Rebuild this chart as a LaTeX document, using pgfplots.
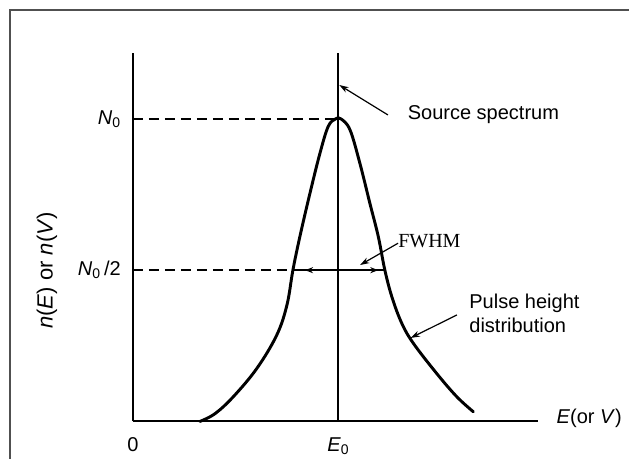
\documentclass[border=0pt]{standalone}
\usepackage{fontspec}
\setmainfont{Liberation Sans}
\newfontfamily\seriffont{Liberation Serif}
\usepackage{pgfplots}
\pgfplotsset{compat=1.18}
\usetikzlibrary{arrows.meta}
\definecolor{framegray}{RGB}{80,80,80}
\begin{document}
\fontsize{15}{18}\selectfont
\begin{tikzpicture}
\useasboundingbox (-99.75pt,-28.1pt) rectangle (372pt,316.1pt);
\draw[line width=1.5pt, framegray] (-92.6pt,-28.1pt) -- (-92.6pt,308.6pt) -- (372pt,308.6pt);
\begin{axis}[
  at={(0,0)}, anchor=south west,
  scale only axis, width=303.75pt, height=276.4pt,
  xmin=0, xmax=1.973, ymin=0, ymax=1.218,
  axis lines=left,
  axis line style={-, line width=1.5pt},
  major tick length=0pt,
  xtick={0,1}, xticklabels={0,\textit{E}\textsubscript{0}},
  ytick={0.5,1}, yticklabels={\textit{N}\textsubscript{0}\,/2,\textit{N}\textsubscript{0}},
  xticklabel style={yshift=-7pt},
  yticklabel style={xshift=-4pt},
  clip=false,
]
% source spectrum (delta line at E0)
\addplot[line width=1.2pt] coordinates {(1,0) (1,1.218)};
% dashed guides
\addplot[line width=1.5pt, dash pattern=on 7.5pt off 4.5pt] coordinates {(0,1) (0.985,1)};
\addplot[line width=1.5pt, dash pattern=on 7.5pt off 4.5pt] coordinates {(0,0.5) (0.779,0.5)};
% FWHM line
\addplot[line width=1.1pt] coordinates {(0.779,0.5) (1.227,0.5)};
\addplot[line width=1.1pt, -{Stealth[length=6pt,width=4.5pt]}] coordinates {(1,0.5) (0.838,0.5)};
\addplot[line width=1.1pt, -{Stealth[length=6pt,width=4.5pt]}] coordinates {(1,0.5) (1.195,0.5)};
% pulse height distribution
\addplot[line width=2.2pt, smooth, tension=0.6, line cap=round] coordinates {
(0.326,0) (0.40,0.026) (0.489,0.082) (0.603,0.175) (0.700,0.285) (0.750,0.385)
(0.779,0.5) (0.813,0.611) (0.862,0.754) (0.911,0.887) (0.951,0.975)
(0.987,1.0) (1.013,1.0) (1.057,0.964) (1.105,0.854) (1.154,0.721) (1.195,0.611)
(1.227,0.5) (1.262,0.410) (1.309,0.325) (1.365,0.259) (1.479,0.159) (1.577,0.082)
(1.658,0.032)};
% leaders
\addplot[line width=0.9pt, -{Stealth[length=7pt,width=4.5pt]}] coordinates {(1.242,1.013) (1.005,1.112)};
\addplot[line width=0.9pt, -{Stealth[length=7pt,width=4.5pt]}] coordinates {(1.291,0.589) (1.106,0.517)};
\addplot[line width=0.9pt, -{Stealth[length=7pt,width=4.5pt]}] coordinates {(1.578,0.352) (1.352,0.276)};
\node[anchor=west] at (axis cs:1.305,1.013) {Source spectrum};
\node[anchor=west, inner sep=0pt] at (axis cs:1.291,0.595) {\seriffont\fontsize{15}{17}\selectfont FWHM};
\node[anchor=west, align=left] at (axis cs:1.605,0.356) {Pulse height\\distribution};
\node[anchor=west] at (axis cs:2.03,0.01) {\textit{E}(or \textit{V})};
\node[rotate=90] at (axis cs:-0.419,0.5) {\fontsize{16.5}{18}\selectfont\textit{n}(\textit{E}) or \textit{n}(\textit{V})};
\end{axis}
\end{tikzpicture}
\end{document}
